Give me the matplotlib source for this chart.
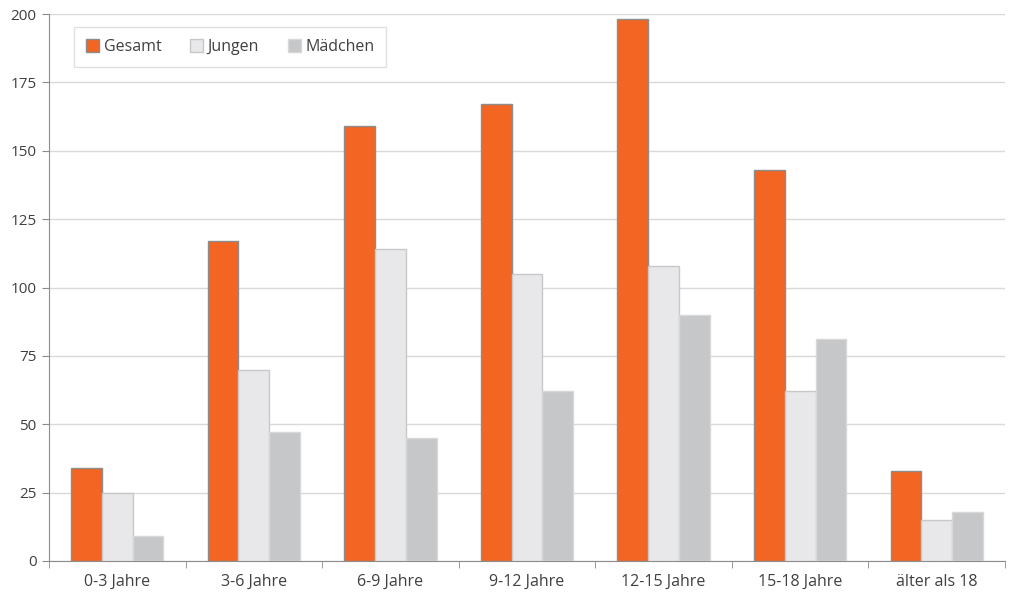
import numpy as np
import matplotlib
matplotlib.use("Agg")
import matplotlib.pyplot as plt

categories = ["0-3 Jahre", "3-6 Jahre", "6-9 Jahre", "9-12 Jahre",
              "12-15 Jahre", "15-18 Jahre", "älter als 18"]
gesamt = [34, 117, 159, 167, 198, 143, 33]
jungen = [25, 70, 114, 105, 108, 62, 15]
maedchen = [9, 47, 45, 62, 90, 81, 18]

plt.rcParams["font.family"] = ["Open Sans", "DejaVu Sans"]
text_col = "#404040"

fig = plt.figure(figsize=(10.11, 5.98), dpi=100)
ax = fig.add_axes([49 / 1011, 37 / 598, 956 / 1011, 547 / 598])

x = np.arange(len(categories))
w = 0.225
series = [
    ("Gesamt", gesamt, "#f26522", "#8c8c8c"),
    ("Jungen", jungen, "#e8e8ea", "#c8c8c8"),
    ("Mädchen", maedchen, "#c6c7c9", "#d8d8d8"),
]
for i, (label, vals, fc, ec) in enumerate(series):
    ax.bar(x + (i - 1) * w, vals, width=w, color=fc, edgecolor=ec,
           linewidth=1.0, label=label, zorder=3)

ax.set_xlim(-0.5, len(categories) - 0.5)
ax.set_ylim(0, 200)
ax.set_yticks(range(0, 201, 25))
ax.yaxis.grid(True, color="#d9d9d9", linewidth=1.0, zorder=0)
ax.set_axisbelow(True)

ax.set_xticks(x)
ax.set_xticklabels(categories)
ax.set_xticks(np.arange(-0.5, len(categories), 1.0), minor=True)
ax.tick_params(axis="x", which="major", length=0, pad=9,
               labelsize=11.5, labelcolor=text_col)
ax.tick_params(axis="x", which="minor", length=5, color="#8c8c8c")
ax.tick_params(axis="y", length=5, color="#8c8c8c", labelsize=11,
               labelcolor=text_col, pad=4)

for side in ("top", "right"):
    ax.spines[side].set_visible(False)
ax.spines["left"].set_color("#8c8c8c")
ax.spines["bottom"].set_color("#8c8c8c")

leg = ax.legend(loc="upper left", bbox_to_anchor=(25 / 956, 1 - 13 / 547),
                ncol=3, frameon=True, fancybox=False, fontsize=11.5,
                handlelength=0.8, handleheight=0.8, handletextpad=0.3,
                columnspacing=1.8, borderpad=0.75, borderaxespad=0)
leg.get_frame().set_edgecolor("#d9d9d9")
leg.get_frame().set_linewidth(1.0)
for t in leg.get_texts():
    t.set_color(text_col)

fig.savefig("out.png", dpi=100)
